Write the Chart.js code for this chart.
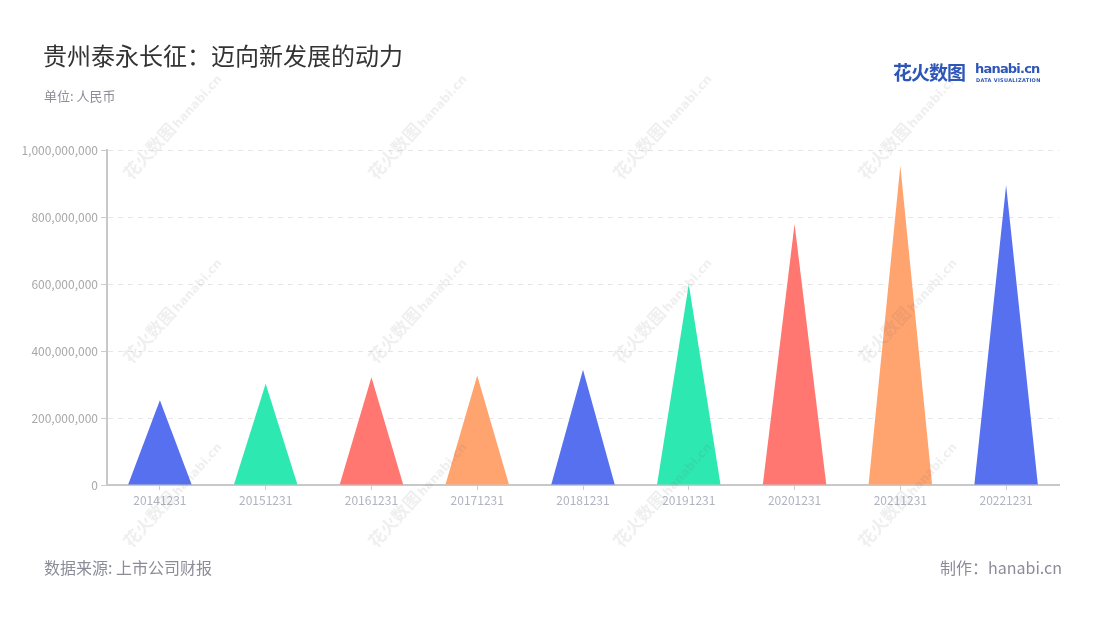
<!DOCTYPE html>
<html>
<head>
<meta charset="utf-8">
<script src="https://cdn.jsdelivr.net/npm/chart.js@4/dist/chart.umd.min.js"></script>
<style>
  html, body { margin: 0; padding: 0; background: #fff; }
  body { width: 1100px; height: 620px; position: relative; overflow: hidden;
         font-family: "Noto Sans CJK SC", "Noto Sans", sans-serif; }
  #wrap { position: absolute; left: 0; top: 0; width: 1100px; height: 620px; }
  .title { position: absolute; left: 43px; top: 37px; font-size: 24px; color: #333; }
  .unit { position: absolute; left: 44px; top: 86px; font-size: 13px; color: #8c8c99; }
  .src { position: absolute; left: 44px; top: 555px; font-size: 16px; color: #8c8c99; }
  .maker { position: absolute; right: 38px; top: 555px; font-size: 16px; color: #8c8c99; }
  .logo { position: absolute; left: 893px; top: 58px; color: #2d56b8; }
  .logo .cn { font-size: 19px; font-weight: 700; letter-spacing: -1px; }
  .logo .en { position: absolute; left: 82px; top: 3px; font-size: 13px; font-weight: 700; font-family: "DejaVu Sans", sans-serif; letter-spacing: -0.8px; }
  .logo .sub { position: absolute; left: 83px; top: 19px; font-size: 5px; font-weight: 700; white-space: nowrap; letter-spacing: 0.3px; font-family: "DejaVu Sans", sans-serif; }
  .wm { position: absolute; white-space: nowrap; color: rgba(110,110,110,0.11); font-weight: 700;
        transform-origin: 0 100%; transform: rotate(-48deg); pointer-events: none; }
  .wm .c { font-size: 17px; }
  .wm .e { font-size: 12px; font-family: "DejaVu Sans", sans-serif; margin-left: 2px; }
</style>
</head>
<body>
<div id="wrap"><canvas id="chart" width="1100" height="620"></canvas></div>
<div class="title">贵州泰永长征：迈向新发展的动力</div>
<div class="unit">单位: 人民币</div>
<div class="logo"><span class="cn">花火数图</span><span class="en">hanabi.cn</span><span class="sub">DATA VISUALIZATION</span></div>
<div class="src">数据来源: 上市公司财报</div>
<div class="maker">制作：hanabi.cn</div>
<div id="wms"></div>
<script>
const categories = ["20141231", "20151231", "20161231", "20171231", "20181231",
                    "20191231", "20201231", "20211231", "20221231"];
const revenue = [253000000, 302000000, 322000000, 327000000, 344000000,
                 599000000, 779000000, 953000000, 895000000];
const yTicks = [0, 200000000, 400000000, 600000000, 800000000, 1000000000];
const colors = ["#5670ef", "#2de8b1", "#ff7770", "#ffa36f"];

// watermarks
const wms = document.getElementById("wms");
[135, 380, 625, 870].forEach(x => {
  [183, 367, 551].forEach(y => {
    const d = document.createElement("div");
    d.className = "wm";
    d.style.left = x + "px";
    d.style.top = (y - 24) + "px";
    d.innerHTML = '<span class="c">花火数图</span><span class="e">hanabi.cn</span>';
    wms.appendChild(d);
  });
});

// bars drawn as triangles using the bar elements' positions
const triangles = {
  id: "triangles",
  beforeDatasetDraw(chart, args) {
    const ctx = chart.ctx;
    const meta = args.meta;
    ctx.save();
    meta.data.forEach((bar, i) => {
      const half = bar.width / 2;
      ctx.fillStyle = colors[i % colors.length];
      ctx.beginPath();
      ctx.moveTo(bar.x - half, bar.base);
      ctx.lineTo(bar.x, bar.y);
      ctx.lineTo(bar.x + half, bar.base);
      ctx.closePath();
      ctx.fill();
    });
    ctx.restore();
    return false;
  }
};

const font = { family: '"Noto Sans CJK SC", "Noto Sans", sans-serif', size: 12 };

new Chart(document.getElementById("chart"), {
  type: "bar",
  data: {
    labels: categories,
    datasets: [{
      data: revenue,
      backgroundColor: categories.map((c, i) => colors[i % colors.length]),
      barPercentage: 0.6,
      categoryPercentage: 1.0
    }]
  },
  options: {
    responsive: false,
    animation: false,
    layout: { padding: { top: 150, left: 0, right: 41, bottom: 95 } },
    plugins: { legend: { display: false }, tooltip: { enabled: false } },
    scales: {
      x: {
        afterFit: s => { s.height = 40; },
        grid: { display: true, drawOnChartArea: false, offset: false, tickLength: 5, color: "#cccccc" },
        border: { color: "#c8c8c8", width: 2 },
        ticks: { color: "#b0b3c0", font, padding: 3, maxRotation: 0 }
      },
      y: {
        min: 0,
        max: 1000000000,
        afterFit: s => { s.width = 107; },
        afterBuildTicks: s => { s.ticks = yTicks.map(v => ({ value: v })); },
        grid: { color: "#e6e6e6", tickColor: "#cccccc", tickLength: 6, tickBorderDash: [] },
        border: { color: "#c8c8c8", width: 2, dash: [5, 5] },
        ticks: {
          color: "#a8a8a8", font, padding: 3,
          callback: v => v.toLocaleString("en-US")
        }
      }
    }
  },
  plugins: [triangles]
});
</script>
</body>
</html>
